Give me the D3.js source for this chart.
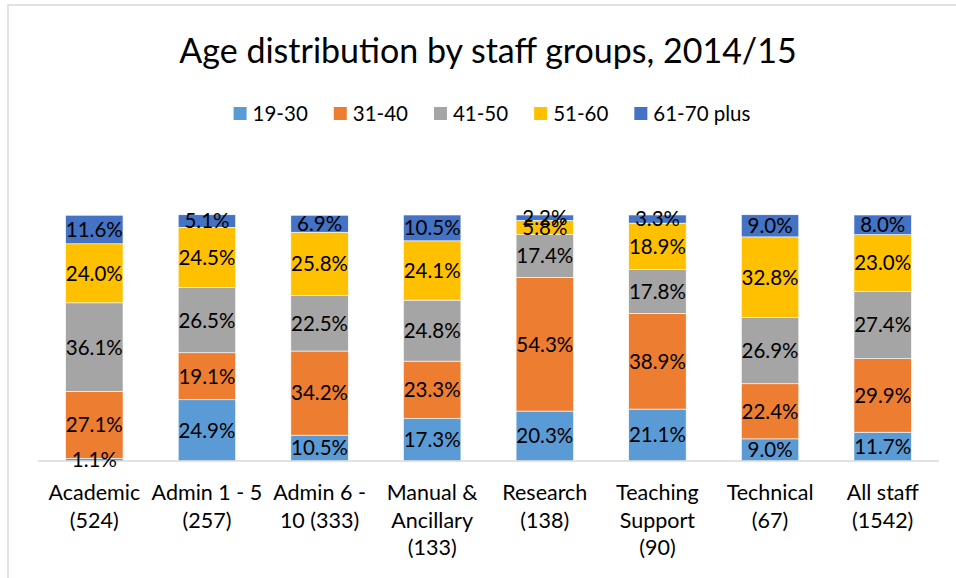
<!DOCTYPE html>
<html>
<head>
<meta charset="utf-8">
<script src="https://cdn.jsdelivr.net/npm/d3@7/dist/d3.min.js"></script>
<style>
  html, body { margin: 0; padding: 0; background: #fff; }
  svg { display: block; font-family: Lato, "Open Sans", sans-serif; }
</style>
</head>
<body>
<svg id="chart" width="956" height="578"></svg>
<script>
// Staff groups (headcount in brackets); "\n" marks the label line breaks
const categories = [
  "Academic\n(524)",
  "Admin 1 - 5\n(257)",
  "Admin 6 -\n10 (333)",
  "Manual &\nAncillary\n(133)",
  "Research\n(138)",
  "Teaching\nSupport\n(90)",
  "Technical\n(67)",
  "All staff\n(1542)"
];

const ageBands = ["19-30", "31-40", "41-50", "51-60", "61-70 plus"];

// Percentage of each staff group in every age band
const age19to30 = [1.1, 24.9, 10.5, 17.3, 20.3, 21.1, 9.0, 11.7];
const age31to40 = [27.1, 19.1, 34.2, 23.3, 54.3, 38.9, 22.4, 29.9];
const age41to50 = [36.1, 26.5, 22.5, 24.8, 17.4, 17.8, 26.9, 27.4];
const age51to60 = [24.0, 24.5, 25.8, 24.1, 5.8, 18.9, 32.8, 23.0];
const age61plus = [11.6, 5.1, 6.9, 10.5, 2.2, 3.3, 9.0, 8.0];

const seriesValues = [age19to30, age31to40, age41to50, age51to60, age61plus];
const colors = ["#5B9BD5", "#ED7D31", "#A5A5A5", "#FFC000", "#4472C4"];

const title = "Age distribution by staff groups, 2014/15";

const svg = d3.select("#chart");
const W = 956, H = 578;

// Chart area frame (light grey border)
svg.append("rect")
  .attr("x", 8).attr("y", 5)
  .attr("width", W + 10).attr("height", H + 10)
  .attr("fill", "#fff")
  .attr("stroke", "#D9D9D9").attr("stroke-width", 1.5);

// Title
svg.append("text")
  .attr("x", 488).attr("y", 63)
  .attr("text-anchor", "middle")
  .attr("font-size", 34)
  .attr("fill", "#000")
  .text(title);

// Rows for stacking
const rows = categories.map((c, i) => {
  const r = { cat: c };
  ageBands.forEach((b, k) => { r[b] = seriesValues[k][i]; });
  return r;
});

const stacked = d3.stack().keys(ageBands)(rows);

const x = d3.scaleBand()
  .domain(categories)
  .range([38, 939])
  .paddingInner(0.49)
  .paddingOuter(0.245);

const y = d3.scaleLinear()
  .domain([0, 100])
  .range([461, 215]);

const color = d3.scaleOrdinal().domain(ageBands).range(colors);

// Stacked bars
const layers = svg.append("g").selectAll("g")
  .data(stacked)
  .join("g")
  .attr("fill", d => color(d.key));

layers.selectAll("rect")
  .data(d => d)
  .join("rect")
  .attr("x", d => x(d.data.cat))
  .attr("width", x.bandwidth())
  .attr("y", d => y(d[1]))
  .attr("height", d => y(d[0]) - y(d[1]))
  .attr("stroke", "#fff")
  .attr("stroke-width", 0.6);

// Category axis line
svg.append("line")
  .attr("x1", 38).attr("x2", 939)
  .attr("y1", y(0)).attr("y2", y(0))
  .attr("stroke", "#D9D9D9").attr("stroke-width", 1.5);

// Data labels centred in each segment
const labels = svg.append("g")
  .attr("font-size", 20.5)
  .attr("text-anchor", "middle")
  .attr("fill", "#000");

stacked.forEach(layer => {
  labels.selectAll(null)
    .data(layer)
    .join("text")
    .attr("x", d => x(d.data.cat) + x.bandwidth() / 2)
    .attr("y", d => (y(d[0]) + y(d[1])) / 2)
    .attr("dy", "0.36em")
    .text(d => (d[1] - d[0]).toFixed(1) + "%");
});

// Category labels (wrapped)
const catG = svg.append("g")
  .attr("font-size", 21.5)
  .attr("text-anchor", "middle")
  .attr("fill", "#000");

categories.forEach(c => {
  const cxPos = x(c) + x.bandwidth() / 2;
  const t = catG.append("text").attr("x", cxPos).attr("y", 500);
  c.split("\n").forEach((line, i) => {
    t.append("tspan")
      .attr("x", cxPos)
      .attr("dy", i === 0 ? 0 : 27.5)
      .text(line);
  });
});

// Legend
const legend = svg.append("g").attr("font-size", 20.5).attr("fill", "#000");
const items = legend.selectAll("g")
  .data(ageBands)
  .join("g");
items.append("rect")
  .attr("width", 13).attr("height", 13)
  .attr("y", 107)
  .attr("fill", d => color(d));
items.append("text")
  .attr("x", 19).attr("y", 121)
  .text(d => d);

// Lay legend entries out side by side, centred under the title
const widths = [];
items.each(function () {
  widths.push(d3.select(this).select("text").node().getComputedTextLength() + 19);
});
const gap = 26;
const total = d3.sum(widths) + gap * (widths.length - 1);
let cx = 492 - total / 2;
items.each(function (d, i) {
  d3.select(this).attr("transform", `translate(${cx},0)`);
  cx += widths[i] + gap;
});
</script>
</body>
</html>
